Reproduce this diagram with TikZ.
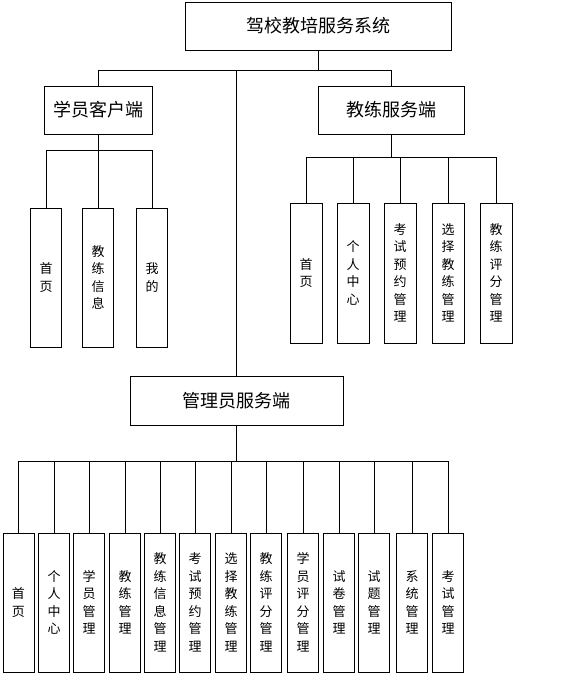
\documentclass[tikz,border=0pt]{standalone}
\usepackage{fontspec}
\usepackage{tikz}
\newfontfamily\cjk{Noto Sans CJK SC}

\begin{document}
\begin{tikzpicture}[
x=1pt,y=-1pt,
head/.style={draw,line width=0.8pt,inner sep=0pt,minimum height=48pt,font=\cjk\fontsize{18}{20}\selectfont},
leaf/.style={draw,line width=0.8pt,inner sep=0pt,minimum width=31pt,minimum height=139pt,align=center,font=\cjk\fontsize{13}{17.5}\selectfont},
link/.style={line width=0.8pt}]
    \useasboundingbox (0,0) rectangle (575,678);

    % Draw top levels
    \node[head,minimum width=266pt] (sys) at (318,26) {驾校教培服务系统};
    \node[head,minimum width=108pt] (stu) at (98,110) {学员客户端};
    \node[head,minimum width=146pt] (coach) at (391,110) {教练服务端};
    \node[head,minimum width=213pt,minimum height=49pt] (admin) at (236.5,400.5) {管理员服务端};

    \draw[link] (sys.south) -- ++(0,20) coordinate (top);
    \draw[link] (top) -| (stu.north) (top) -| (coach.north) (top) -| (admin.north);

    % student side
    \node[leaf] (s1) at (46,277.5) {首\\页};
    \node[leaf] (s2) at (98,277.5) {教\\练\\信\\息};
    \node[leaf] (s3) at (152,277.5) {我\\的};

    \draw[link] (stu.south) -- ++(0,16) coordinate (sbar);
    \draw[link] (sbar) -| (s1.north) (sbar) -| (s2.north) (sbar) -| (s3.north);

    % coach side
    \node[leaf,minimum width=32pt,minimum height=140pt] (c1) at (306,273) {首\\页};
    \node[leaf,minimum width=32pt,minimum height=140pt] (c2) at (353,273) {个\\人\\中\\心};
    \node[leaf,minimum width=32pt,minimum height=140pt] (c3) at (400,273) {考\\试\\预\\约\\管\\理};
    \node[leaf,minimum width=32pt,minimum height=140pt] (c4) at (448,273) {选\\择\\教\\练\\管\\理};
    \node[leaf,minimum width=32pt,minimum height=140pt] (c5) at (496,273) {教\\练\\评\\分\\管\\理};

    \draw[link] (coach.south) -- ++(0,23) coordinate (cbar);
    \draw[link] (cbar) -| (c1.north) (cbar) -| (c2.north) (cbar) -| (c3.north)
        (cbar) -| (c4.north) (cbar) -| (c5.north);

    % admin side
    \node[leaf] (m1) at (18.5,602.5) {首\\页};
    \node[leaf] (m2) at (54,602.5) {个\\人\\中\\心};
    \node[leaf] (m3) at (89,602.5) {学\\员\\管\\理};
    \node[leaf] (m4) at (125,602.5) {教\\练\\管\\理};
    \node[leaf] (m5) at (160,602.5) {教\\练\\信\\息\\管\\理};
    \node[leaf] (m6) at (195,602.5) {考\\试\\预\\约\\管\\理};
    \node[leaf] (m7) at (231,602.5) {选\\择\\教\\练\\管\\理};
    \node[leaf] (m8) at (266,602.5) {教\\练\\评\\分\\管\\理};
    \node[leaf] (m9) at (303,602.5) {学\\员\\评\\分\\管\\理};
    \node[leaf] (m10) at (339,602.5) {试\\卷\\管\\理};
    \node[leaf] (m11) at (374,602.5) {试\\题\\管\\理};
    \node[leaf] (m12) at (412,602.5) {系\\统\\管\\理};
    \node[leaf] (m13) at (448,602.5) {考\\试\\管\\理};

    \draw[link] (admin.south) -- ++(0,36) coordinate (mbar);
    \draw[link] (mbar) -| (m1.north) (mbar) -| (m2.north) (mbar) -| (m3.north)
        (mbar) -| (m4.north) (mbar) -| (m5.north) (mbar) -| (m6.north)
        (mbar) -| (m7.north) (mbar) -| (m8.north) (mbar) -| (m9.north)
        (mbar) -| (m10.north) (mbar) -| (m11.north) (mbar) -| (m12.north)
        (mbar) -| (m13.north);

\end{tikzpicture}
\end{document}
